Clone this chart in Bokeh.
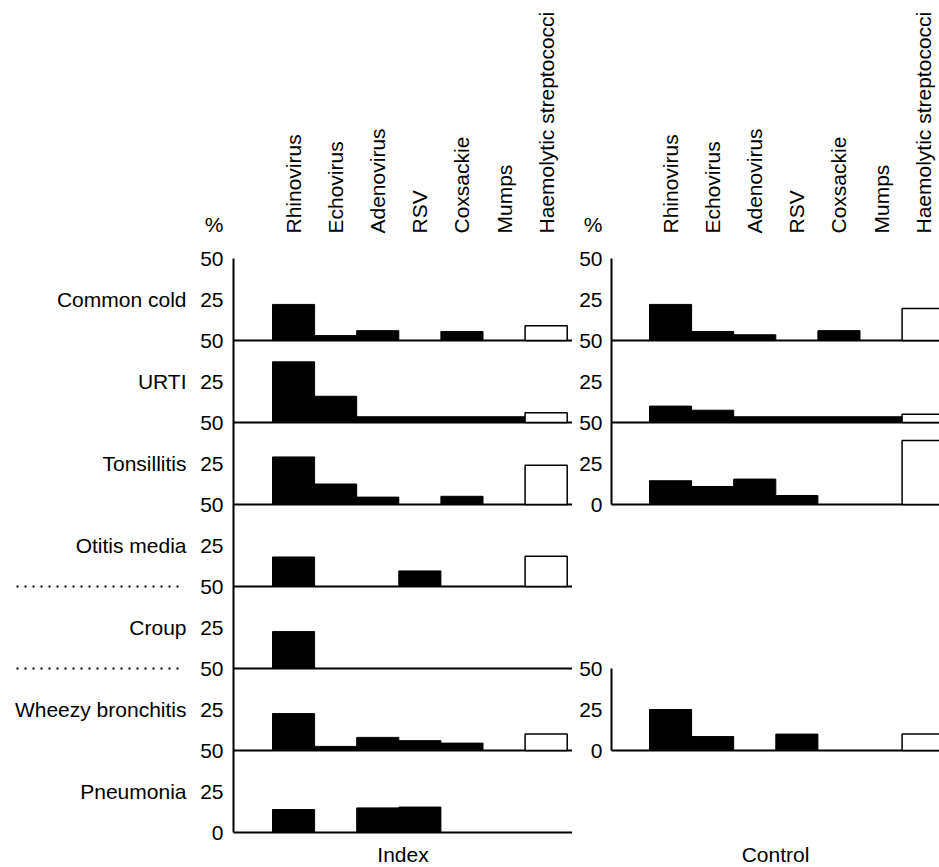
from bokeh.plotting import figure
from bokeh.models import Range1d, FixedTicker, LinearAxis, ColumnDataSource
from bokeh.layouts import row
from bokeh.embed import file_html
from bokeh.resources import INLINE

# ---------------- data (percent of isolates) ----------------
organisms = ["Rhinovirus", "Echovirus", "Adenovirus", "RSV", "Coxsackie", "Mumps",
             "Haemolytic streptococci"]
open_organism = "Haemolytic streptococci"

conditions = ["Common cold", "URTI", "Tonsillitis", "Otitis media", "Croup",
              "Wheezy bronchitis", "Pneumonia"]

index_common_cold = [22, 3, 6, 0, 5.5, 0, 9]
index_urti = [37, 16, 3.5, 3.5, 3.5, 3.5, 6]
index_tonsillitis = [29, 12.5, 4.5, 0, 5, 0, 24]
index_otitis_media = [18, 0, 0, 9.5, 0, 0, 18.5]
index_croup = [22.5, 0, 0, 0, 0, 0, 0]
index_wheezy_bronchitis = [22.5, 2.5, 8, 6, 4.5, 0, 10]
index_pneumonia = [14, 0, 15, 15.5, 0, 0, 0]

control_common_cold = [22, 5.5, 3.5, 0, 6, 0, 19.5]
control_urti = [10, 7.5, 3.5, 3.5, 3.5, 3.5, 5]
control_tonsillitis = [14.5, 11, 15.5, 5.5, 0, 0, 39]
control_wheezy_bronchitis = [25, 8.5, 0, 10, 0, 0, 10]

index_data = {
    "Common cold": index_common_cold, "URTI": index_urti,
    "Tonsillitis": index_tonsillitis, "Otitis media": index_otitis_media,
    "Croup": index_croup, "Wheezy bronchitis": index_wheezy_bronchitis,
    "Pneumonia": index_pneumonia,
}
control_data = {
    "Common cold": control_common_cold, "URTI": control_urti,
    "Tonsillitis": control_tonsillitis, "Wheezy bronchitis": control_wheezy_bronchitis,
}

row_span = 50                      # each condition band runs 0-50 %
tick_step = 25
dotted_below = ["Otitis media", "Croup"]
unit_label = "%"

# ---------------- layout / style ----------------
FONT = "Liberation Sans"
FS = "21px"
FIG_H = 867
PX_COL = 42.1          # pixels per organism column
PX_PCT = 1.64          # pixels per percent
Y0_PX = 832            # pixel row of the lowest band's 0 %
N = len(conditions)


def band_base(cond):
    return (N - 1 - conditions.index(cond)) * row_span


def style_axis(ax, line=True):
    ax.major_label_text_font = FONT
    ax.major_label_text_font_size = FS
    ax.major_label_text_color = "black"
    ax.axis_label_text_font = FONT
    ax.axis_label_text_font_size = FS
    ax.axis_label_text_font_style = "normal"
    ax.axis_label_text_color = "black"
    ax.axis_line_color = "black" if line else None
    ax.axis_line_width = 2
    ax.major_tick_line_color = None
    ax.minor_tick_line_color = None
    ax.major_tick_out = 0
    ax.major_tick_in = 0
    ax.minor_tick_out = 0
    ax.minor_tick_in = 0
    ax.major_label_standoff = 0
    return ax


def panel(data, width, col0_px, axis_px, num_standoff, group_label, label_end_px,
          names_px=None, dots_px=None):
    xd = lambda px: (px - col0_px) / PX_COL
    yd = lambda py: (Y0_PX - py) / PX_PCT
    p = figure(width=width, height=FIG_H,
               x_range=Range1d(xd(0), xd(width)), y_range=Range1d(yd(FIG_H), yd(0)),
               x_axis_type=None, y_axis_type=None,
               output_backend="svg", toolbar_location=None,
               min_border=0, outline_line_color=None,
               background_fill_color="white", border_fill_color="white")
    ax_x = xd(axis_px)
    x_end = xd(width)
    top = N * row_span

    # contiguous blocks of bands -> one y axis each
    present = [c for c in conditions if c in data]
    blocks = []
    for c in present:
        k = conditions.index(c)
        if blocks and conditions.index(blocks[-1][-1]) == k - 1:
            blocks[-1].append(c)
        else:
            blocks.append([c])
    for blk in blocks:
        lo = band_base(blk[-1])
        hi = band_base(blk[0]) + row_span
        ticks = list(range(lo, hi + 1, tick_step))
        labels = {}
        for t in ticks:
            if t == lo:
                labels[t] = "0"
            elif (t - lo) % row_span == 0:
                labels[t] = str(row_span)
            else:
                labels[t] = str(tick_step)
        yax = style_axis(LinearAxis(ticker=FixedTicker(ticks=ticks),
                                    major_label_overrides=labels,
                                    fixed_location=ax_x, bounds=(lo, hi)))
        yax.major_label_standoff = num_standoff
        p.add_layout(yax, "left")

    # "%" sign above the axis
    pct_y = yd(224)
    pax = style_axis(LinearAxis(ticker=FixedTicker(ticks=[pct_y]),
                                major_label_overrides={pct_y: unit_label},
                                fixed_location=ax_x), line=False)
    pax.major_label_standoff = num_standoff
    p.add_layout(pax, "left")

    # organism headers, reading upward from above the top band
    centers = [i + 0.5 for i in range(len(organisms))]
    hax = style_axis(LinearAxis(ticker=FixedTicker(ticks=centers),
                                major_label_overrides=dict(zip(centers, organisms)),
                                fixed_location=top), line=False)
    hax.major_label_orientation = "vertical"
    hax.major_label_standoff = 25
    p.add_layout(hax, "above")

    # group label ("Index" / "Control") under the panel
    gax = style_axis(LinearAxis(ticker=FixedTicker(ticks=[]), fixed_location=0,
                                bounds=(ax_x, xd(label_end_px))), line=False)
    gax.axis_label = group_label
    gax.axis_label_standoff = 10
    p.add_layout(gax, "below")

    # band baselines
    bases = [band_base(c) for c in present]
    p.segment(x0=[ax_x] * len(bases), x1=[x_end] * len(bases), y0=bases, y1=bases,
              line_color="black", line_width=2)

    # condition names and dotted separators
    if names_px is not None:
        mids = [band_base(c) + tick_step for c in present]
        nax = style_axis(LinearAxis(ticker=FixedTicker(ticks=mids),
                                    major_label_overrides=dict(zip(mids, present)),
                                    fixed_location=xd(names_px)), line=False)
        p.add_layout(nax, "left")
    if dots_px is not None:
        seps = [band_base(c) for c in dotted_below]
        p.segment(x0=[xd(dots_px[0])] * len(seps), x1=[xd(dots_px[1])] * len(seps),
                  y0=seps, y1=seps, line_color="black", line_width=2, line_dash="2 6")

    # bars
    filled = dict(left=[], right=[], bottom=[], top=[])
    hollow = dict(left=[], right=[], bottom=[], top=[])
    for c in present:
        base = band_base(c)
        for i, (org, v) in enumerate(zip(organisms, data[c])):
            if v <= 0:
                continue
            d = hollow if org == open_organism else filled
            d["left"].append(i)
            d["right"].append(i + 1)
            d["bottom"].append(base)
            d["top"].append(base + v)
    p.quad(left="left", right="right", bottom="bottom", top="top",
           source=ColumnDataSource(filled),
           fill_color="black", line_color="black", line_width=1)
    p.quad(left="left", right="right", bottom="bottom", top="top",
           source=ColumnDataSource(hollow),
           fill_color="white", line_color="black", line_width=1.5)
    return p


p_index = panel(index_data, 572, 272, 233, 10, "Index", 572,
                names_px=186, dots_px=(16, 183))
p_control = panel(control_data, 367, 77, 39, 9, "Control", 373)

layout = row(p_index, p_control)
open("out.html", "w").write(file_html(layout, INLINE, "Isolates"))
